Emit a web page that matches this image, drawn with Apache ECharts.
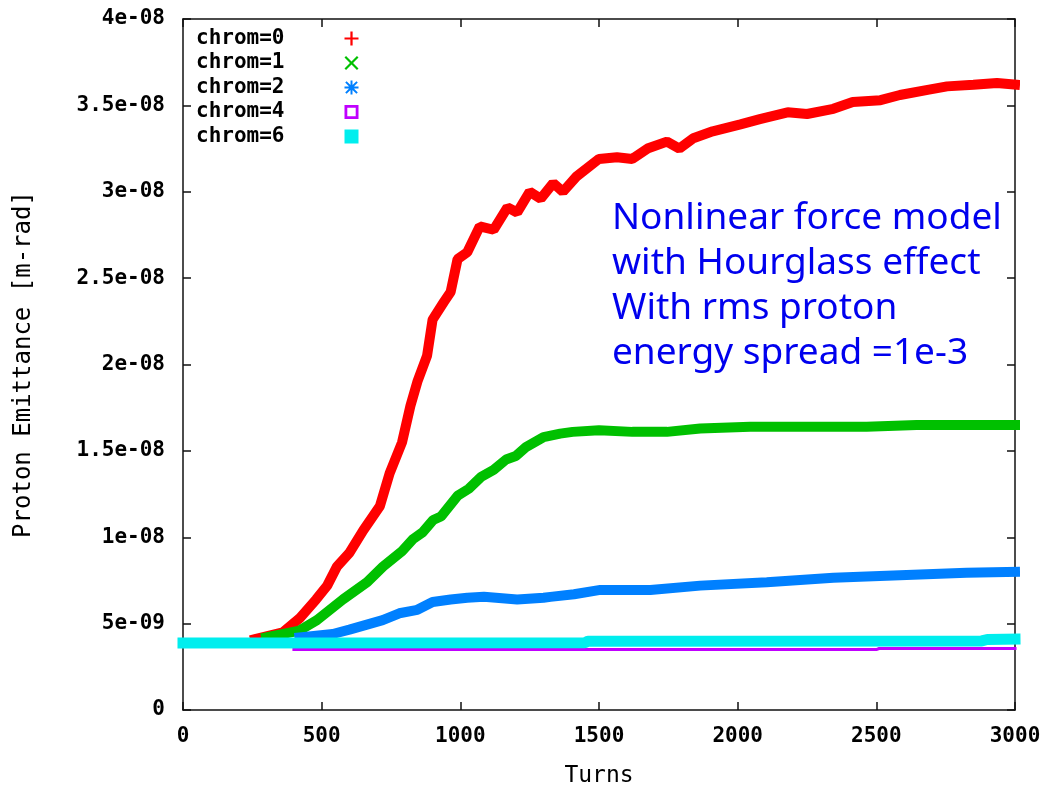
<!DOCTYPE html>
<html>
<head>
<meta charset="utf-8">
<script src="https://cdn.jsdelivr.net/npm/echarts@6/dist/echarts.min.js"></script>
<style>html,body{margin:0;padding:0;background:#fff}#c{width:1058px;height:793px}</style>
</head>
<body>
<div id="c"></div>
<script>
// Values in units of 1e-9 m-rad
var seriesNames = ['chrom=0', 'chrom=1', 'chrom=2', 'chrom=4', 'chrom=6'];
var yTickLabels = ['0', '5e-09', '1e-08', '1.5e-08', '2e-08', '2.5e-08', '3e-08', '3.5e-08', '4e-08'];
var xTickLabels = ['0', '500', '1000', '1500', '2000', '2500', '3000'];

var chrom0Turns = [260, 360, 420, 480, 520, 555, 600, 650, 710, 745, 790, 820, 845, 880, 900, 940, 965, 990, 1025, 1070, 1120, 1170, 1205, 1250, 1290, 1335, 1370, 1420, 1500, 1565, 1620, 1675, 1745, 1790, 1840, 1910, 2010, 2080, 2180, 2250, 2345, 2415, 2515, 2585, 2685, 2755, 2850, 2935, 3000];
var chrom0Vals  = [4.1, 4.5, 5.3, 6.4, 7.2, 8.3, 9.1, 10.4, 11.8, 13.7, 15.5, 17.6, 19.0, 20.5, 22.6, 23.6, 24.2, 26.1, 26.5, 28.0, 27.8, 29.1, 28.8, 30.0, 29.6, 30.5, 30.0, 30.9, 31.9, 32.0, 31.9, 32.5, 32.9, 32.5, 33.1, 33.5, 33.9, 34.2, 34.6, 34.5, 34.8, 35.2, 35.3, 35.6, 35.9, 36.1, 36.2, 36.3, 36.2];

var chrom1Turns = [300, 420, 483, 577, 664, 721, 790, 830, 865, 902, 930, 990, 1030, 1075, 1120, 1165, 1200, 1235, 1300, 1360, 1405, 1500, 1620, 1745, 1865, 2045, 2225, 2465, 2645, 2825, 3000];
var chrom1Vals  = [4.2, 4.6, 5.2, 6.4, 7.4, 8.3, 9.2, 9.9, 10.3, 11.0, 11.2, 12.4, 12.8, 13.5, 13.9, 14.5, 14.7, 15.2, 15.8, 16.0, 16.1, 16.2, 16.1, 16.1, 16.3, 16.4, 16.4, 16.4, 16.5, 16.5, 16.5];

var chrom2Turns = [420, 540, 600, 720, 780, 845, 900, 965, 1025, 1085, 1205, 1300, 1325, 1410, 1505, 1685, 1865, 2105, 2345, 2585, 2825, 3000];
var chrom2Vals  = [4.2, 4.4, 4.65, 5.2, 5.6, 5.8, 6.25, 6.4, 6.5, 6.55, 6.4, 6.5, 6.55, 6.7, 6.95, 6.95, 7.2, 7.4, 7.65, 7.8, 7.95, 8.0];

var chrom4Turns = [400, 2500, 2510, 3000];
var chrom4Vals  = [3.5, 3.5, 3.56, 3.56];

var chrom6Turns = [0, 1450, 1460, 2880, 2900, 3000];
var chrom6Vals  = [3.88, 3.9, 3.98, 4.0, 4.08, 4.1];

var colors = ['#ff0000', '#00c000', '#0080ff', '#c000ff', '#00eeee'];
var widths = [10, 10, 10, 3, 11];
var icons = [
  'path://M4.2,0H5.8V4.2H10V5.8H5.8V10H4.2V5.8H0V4.2H4.2Z',
  'path://M0,1.1L1.1,0L5,3.9L8.9,0L10,1.1L6.1,5L10,8.9L8.9,10L5,6.1L1.1,10L0,8.9L3.9,5Z',
  'path://M4.3,0H5.7V4.3H10V5.7H5.7V10H4.3V5.7H0V4.3H4.3Z M0.5,1.5L1.5,0.5L5,4L8.5,0.5L9.5,1.5L6,5L9.5,8.5L8.5,9.5L5,6L1.5,9.5L0.5,8.5L4,5Z M3,3H7V7H3Z',
  'path://M0,0H10V10H0Z M2,2V8H8V2Z',
  'path://M0,0H10V10H0Z'
];

var allTurns = [chrom0Turns, chrom1Turns, chrom2Turns, chrom4Turns, chrom6Turns];
var allVals = [chrom0Vals, chrom1Vals, chrom2Vals, chrom4Vals, chrom6Vals];

var FONT = 'DejaVu Sans Mono';

var series = seriesNames.map(function (n, i) {
  return {
    name: n,
    type: 'line',
    xAxisIndex: 0,
    yAxisIndex: 0,
    showSymbol: false,
    symbol: 'none',
    clip: false,
    data: allTurns[i].map(function (t, k) { return [t, allVals[i][k]]; }),
    lineStyle: { color: colors[i], width: widths[i], cap: 'square', join: 'bevel' },
    itemStyle: { color: colors[i] },
    animation: false,
    z: 2 + i
  };
});

var axisLineStyle = { color: '#111', width: 1.5 };
var chart = echarts.init(document.getElementById('c'), null, { renderer: 'canvas' });
chart.setOption({
  backgroundColor: '#ffffff',
  animation: false,
  color: colors,
  grid: { left: 183, right: 43, top: 19, bottom: 83, containLabel: false, outerBoundsMode: 'none' },
  xAxis: [{
    type: 'value', position: 'bottom', min: 0, max: 3000, interval: 500,
    name: 'Turns', nameLocation: 'middle', nameGap: 55,
    nameTextStyle: { fontFamily: FONT, fontSize: 23, color: '#000' },
    axisLine: { show: true, onZero: false, lineStyle: axisLineStyle },
    axisTick: { show: true, inside: true, length: 8, lineStyle: axisLineStyle },
    axisLabel: { margin: 16, fontFamily: FONT, fontWeight: 'bold', fontSize: 21, color: '#000',
      formatter: function (v) { return xTickLabels[Math.round(v / 500)]; } },
    splitLine: { show: false }
  }, {
    type: 'value', position: 'top', min: 0, max: 3000, interval: 500,
    axisLine: { show: true, onZero: false, lineStyle: axisLineStyle },
    axisTick: { show: true, inside: true, length: 8, lineStyle: axisLineStyle },
    axisLabel: { show: false }, splitLine: { show: false }
  }],
  yAxis: [{
    type: 'value', position: 'left', min: 0, max: 40, interval: 5,
    name: 'Proton Emittance [m-rad]', nameLocation: 'middle', nameGap: 147,
    nameTextStyle: { fontFamily: FONT, fontSize: 24, color: '#000' },
    axisLine: { show: true, onZero: false, lineStyle: axisLineStyle },
    axisTick: { show: true, inside: true, length: 8, lineStyle: axisLineStyle },
    axisLabel: { margin: 18, fontFamily: FONT, fontWeight: 'bold', fontSize: 21, color: '#000',
      formatter: function (v) { return yTickLabels[Math.round(v / 5)]; } },
    splitLine: { show: false }
  }, {
    type: 'value', position: 'right', min: 0, max: 40, interval: 5,
    axisLine: { show: true, onZero: false, lineStyle: axisLineStyle },
    axisTick: { show: true, inside: true, length: 8, lineStyle: axisLineStyle },
    axisLabel: { show: false }, splitLine: { show: false }
  }],
  legend: {
    orient: 'vertical', left: 196, top: 28, padding: 0, align: 'right',
    itemWidth: 124, itemHeight: 14, itemGap: 3.5,
    selectedMode: false,
    textStyle: { fontFamily: FONT, fontWeight: 'bold', fontSize: 21, color: '#000' },
    itemStyle: { borderWidth: 0 },
    data: seriesNames.map(function (n, i) { return { name: n, icon: icons[i], itemStyle: { color: colors[i], borderWidth: 0 } }; })
  },
  graphic: [{
    type: 'text', left: 612, top: 196, z: 100,
    style: {
      text: 'Nonlinear force model\nwith Hourglass effect\nWith rms proton\nenergy spread =1e-3',
      fontFamily: 'Noto Sans', fontSize: 37, lineHeight: 45, fill: '#0000ee'
    }
  }],
  series: series
});
</script>
</body>
</html>
